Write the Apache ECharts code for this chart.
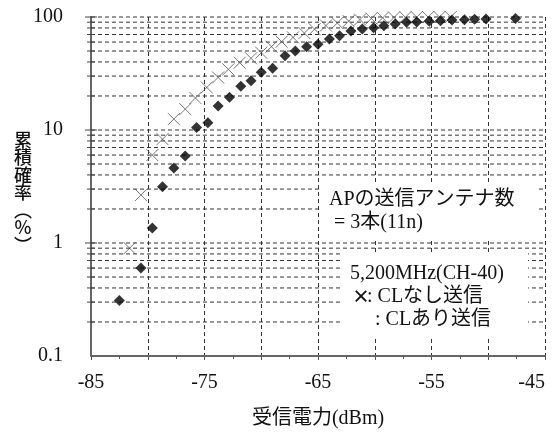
<!DOCTYPE html>
<html>
<head>
<meta charset="utf-8">
<script src="https://cdn.jsdelivr.net/npm/echarts@6/dist/echarts.min.js"></script>
<style>
html,body{margin:0;padding:0;background:#fff;}
#chart{width:553px;height:432px;}
</style>
</head>
<body>
<div id="chart"></div>
<script>
// ---- data ----
const X_MIN = -85, X_MAX = -45;
const xTickLabels = [-85, -75, -65, -55, -45];
const yTickLabels = ['0.1', '1', '10', '100'];

// CL あり送信 (filled diamonds)
const diamondX = [-82.5, -80.6, -79.6, -78.7, -77.7, -76.7, -75.7, -74.7, -73.8, -72.8, -71.8, -70.9, -70.0, -69.0, -67.9, -67.0, -66.0, -65.0, -64.0, -63.1, -62.1, -61.1, -60.1, -59.2, -58.2, -57.2, -56.3, -55.2, -54.2, -53.2, -52.1, -51.2, -50.2, -47.6];
const diamondY = [0.31, 0.60, 1.36, 3.15, 4.6, 5.9, 10.5, 11.6, 16.3, 19.5, 24.4, 27.3, 32.4, 35.2, 45.5, 50, 54.6, 57.3, 63.9, 68.4, 75.2, 78.3, 80.4, 83.8, 86.7, 89.7, 90.5, 91.5, 92.5, 94, 94.5, 95.5, 96, 97];

// CL なし送信 (gray crosses)
const crossX = [-81.6, -80.6, -79.6, -78.7, -77.7, -76.7, -75.8, -74.8, -73.8, -72.9, -71.9, -70.9, -70.0, -69.1, -68.2, -67.2, -66.2, -65.3, -64.3, -63.3, -62.3, -61.3, -60.3, -59.3, -58.3, -57.3, -56.3, -55.3, -54.3, -53.3];
const crossY = [0.90, 2.66, 6.0, 8.3, 12.5, 15.3, 19.2, 23.8, 29.2, 34.4, 39.4, 43.1, 48.3, 54.6, 60.5, 66, 72, 78, 84, 88.5, 92, 95, 97, 98.3, 99, 99.4, 99.7, 99.9, 100, 100];

// log grid lines (minor and major)
const yGridMajor = [1, 10, 100];
const yGridMinor = [0.2, 0.3, 0.4, 0.5, 0.6, 0.7, 0.8, 0.9, 2, 3, 4, 5, 6, 7, 8, 9, 20, 30, 40, 50, 60, 70, 80, 90];

const FONT = "'Liberation Serif', 'Noto Sans CJK JP', serif";
const CJK = "'Noto Sans CJK JP', sans-serif";

const chart = echarts.init(document.getElementById('chart'), null, {renderer: 'canvas'});

const gridData = yGridMajor.map(v => [X_MIN, v, 1]).concat(yGridMinor.map(v => [X_MIN, v, 0]));

const option = {
  animation: false,
  backgroundColor: '#fff',
  grid: {left: 91, right: 8, top: 17, bottom: 76, containLabel: false, outerBoundsMode: 'none'},
  xAxis: {
    type: 'value', min: X_MIN, max: X_MAX, interval: 5,
    axisLine: {show: true, lineStyle: {color: '#666', width: 2}},
    axisTick: {show: true, length: 4, lineStyle: {color: '#555'}},
    minorTick: {show: true, splitNumber: 2, length: 3, lineStyle: {color: '#555'}},
    splitLine: {show: true, lineStyle: {color: '#333', type: [4, 3], width: 1}},
    axisLabel: {
      color: '#111', fontSize: 20, fontFamily: FONT, margin: 17, alignMaxLabel: 'right',
      formatter: v => xTickLabels.includes(v) ? String(v) : ''
    },
    name: '受信電力(dBm)', nameLocation: 'middle', nameGap: 53,
    nameTextStyle: {color: '#111', fontSize: 20, fontFamily: FONT}
  },
  yAxis: {
    type: 'log', logBase: 10, min: 0.1, max: 100,
    axisLine: {show: true, lineStyle: {color: '#666', width: 2}},
    axisTick: {show: false},
    splitLine: {show: false},
    axisLabel: {
      color: '#111', fontSize: 20, fontFamily: FONT, margin: 28,
      formatter: v => {
        const s = String(+v.toPrecision(3));
        return yTickLabels.includes(s) ? s : '';
      }
    }
  },
  graphic: [
    {type: 'text', x: 23, y: 131, z: 100,
      style: {text: '累\n積\n確\n率\n︵\n%\n︶', fontSize: 18, fontFamily: CJK, fontWeight: 500,
        fill: '#111', lineHeight: 17.5, align: 'center', verticalAlign: 'top'}},
    {type: 'rect', z: 90, shape: {x: 320, y: 182, width: 217, height: 58}, style: {fill: '#fff'}},
    {type: 'text', z: 100, x: 329, y: 190,
      style: {text: 'APの送信アンテナ数', font: '20px ' + FONT, fill: '#111'}},
    {type: 'text', z: 100, x: 334, y: 213,
      style: {text: '= 3本(11n)', font: '20px ' + FONT, fill: '#111'}},
    {type: 'rect', z: 90, shape: {x: 342, y: 252, width: 186, height: 85}, style: {fill: '#fff'}},
    {type: 'text', z: 100, x: 350, y: 264,
      style: {text: '5,200MHz(CH-40)', font: '20px ' + FONT, fill: '#111'}},
    {type: 'text', z: 100, x: 352, y: 287,
      style: {text: '×', font: 'bold 18px ' + CJK, fill: '#111'}},
    {type: 'text', z: 100, x: 367, y: 287,
      style: {text: ': CLなし送信', font: '20px ' + FONT, fill: '#111'}},
    {type: 'text', z: 100, x: 375, y: 310,
      style: {text: ': CLあり送信', font: '20px ' + FONT, fill: '#111'}}
  ],
  series: [
    {
      type: 'custom', z: 1, silent: true,
      data: gridData,
      renderItem: (params, api) => {
        const v = api.value(1);
        const major = api.value(2) === 1;
        const p1 = api.coord([X_MIN, v]);
        const p2 = api.coord([X_MAX, v]);
        const t = major ? 6 : 4;
        return {
          type: 'group',
          children: [
            {type: 'line', shape: {x1: p1[0], y1: p1[1], x2: p2[0], y2: p2[1]},
              style: {stroke: '#333', lineWidth: 1, lineDash: [4, 3]}},
            {type: 'line', shape: {x1: p1[0] - t, y1: p1[1], x2: p1[0] + t, y2: p1[1]},
              style: {stroke: '#444', lineWidth: 1}}
          ]
        };
      }
    },
    {
      name: 'CLなし送信', type: 'scatter', z: 3,
      symbol: 'path://M0,0L10,10M10,0L0,10', symbolSize: 12,
      itemStyle: {color: 'none', borderColor: '#555', borderWidth: 1},
      data: crossX.map((x, i) => [x, crossY[i]])
    },
    {
      name: 'CLあり送信', type: 'scatter', z: 4,
      symbol: 'diamond', symbolSize: 11,
      itemStyle: {color: '#000'},
      data: diamondX.map((x, i) => [x, diamondY[i]])
    }
  ]
};
chart.setOption(option);
</script>
</body>
</html>
